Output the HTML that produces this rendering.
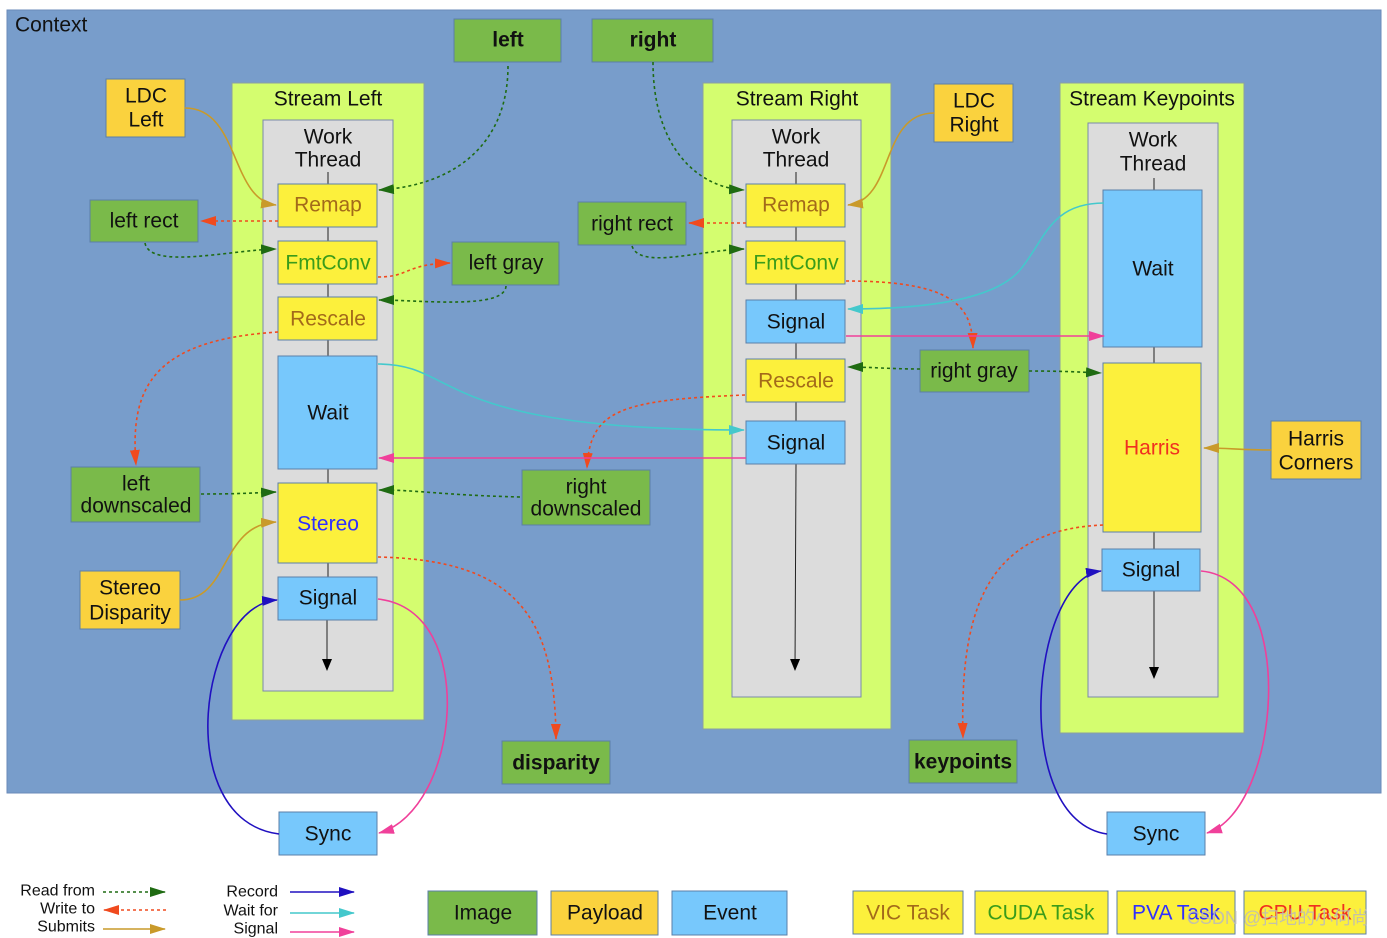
<!DOCTYPE html>
<html><head><meta charset="utf-8"><style>
html,body{margin:0;padding:0;background:#fff;}
svg{display:block;font-family:"Liberation Sans",Arial,sans-serif;}
</style></head><body>
<svg width="1387" height="938" viewBox="0 0 1387 938" xmlns="http://www.w3.org/2000/svg">
<defs>
<marker id="mg" markerWidth="16" markerHeight="10" refX="15" refY="5" orient="auto" markerUnits="userSpaceOnUse"><path d="M0,0 L16,5 L0,10 z" fill="#1f6b12"/></marker>
<marker id="mr" markerWidth="16" markerHeight="10" refX="15" refY="5" orient="auto" markerUnits="userSpaceOnUse"><path d="M0,0 L16,5 L0,10 z" fill="#f04a1e"/></marker>
<marker id="my" markerWidth="16" markerHeight="10" refX="15" refY="5" orient="auto" markerUnits="userSpaceOnUse"><path d="M0,0 L16,5 L0,10 z" fill="#c99a2a"/></marker>
<marker id="mc" markerWidth="16" markerHeight="10" refX="15" refY="5" orient="auto" markerUnits="userSpaceOnUse"><path d="M0,0 L16,5 L0,10 z" fill="#44c8cc"/></marker>
<marker id="mp" markerWidth="16" markerHeight="10" refX="15" refY="5" orient="auto" markerUnits="userSpaceOnUse"><path d="M0,0 L16,5 L0,10 z" fill="#f0409a"/></marker>
<marker id="mb" markerWidth="16" markerHeight="10" refX="15" refY="5" orient="auto" markerUnits="userSpaceOnUse"><path d="M0,0 L16,5 L0,10 z" fill="#2010c0"/></marker>
<marker id="mk" markerWidth="12" markerHeight="10" refX="11" refY="5" orient="auto" markerUnits="userSpaceOnUse"><path d="M0,0 L12,5 L0,10 z" fill="#000"/></marker>
</defs>
<style>
.ctx{fill:#789dcb;stroke:#6a8ab8}
.st{fill:#d4fd6f;stroke:#8aa0a0}
.wt{fill:#dcdcdc;stroke:#7a8aa8}
.img{fill:#7aba4a;stroke:#5b7fa8}
.pay{fill:#fad23e;stroke:#5b7fa8}
.ev{fill:#77c8fc;stroke:#5b7fa8}
.tk{fill:#fcf03c;stroke:#5b7fa8}
text{font-size:21px;text-anchor:middle;dominant-baseline:central;fill:#111}
.b{font-weight:bold}
.rd{fill:none;stroke:#1f6b12;stroke-width:1.6;stroke-dasharray:3,3}
.wr{fill:none;stroke:#f04a1e;stroke-width:1.6;stroke-dasharray:3,3}
.sb{fill:none;stroke:#c99a2a;stroke-width:1.6}
.cy{fill:none;stroke:#44c8cc;stroke-width:1.6}
.pk{fill:none;stroke:#f0409a;stroke-width:1.6}
.nv{fill:none;stroke:#2010c0;stroke-width:1.6}
.ln{stroke:#222;stroke-width:1}
</style>
<rect class="ctx" x="7" y="10" width="1374" height="783"/>
<text x="15" y="25" style="text-anchor:start">Context</text>

<rect class="st" x="232" y="83" width="192" height="637"/>
<text x="328" y="99">Stream Left</text>
<rect class="wt" x="263" y="120" width="130" height="571"/>
<text x="328" y="137">Work</text><text x="328" y="160">Thread</text>
<rect class="st" x="703" y="83" width="188" height="646"/>
<text x="797" y="99">Stream Right</text>
<rect class="wt" x="732" y="120" width="129" height="577"/>
<text x="796" y="137">Work</text><text x="796" y="160">Thread</text>
<rect class="st" x="1060" y="83" width="184" height="650"/>
<text x="1152" y="99">Stream Keypoints</text>
<rect class="wt" x="1088" y="123" width="130" height="574"/>
<text x="1153" y="140">Work</text><text x="1153" y="164">Thread</text>

<line class="ln" x1="328" y1="172" x2="328" y2="184"/>
<line class="ln" x1="328" y1="227" x2="328" y2="577"/>
<line class="ln" x1="327" y1="620" x2="327" y2="670" marker-end="url(#mk)"/>
<line class="ln" x1="796" y1="172" x2="796" y2="464"/>
<line class="ln" x1="796" y1="464" x2="795" y2="670" marker-end="url(#mk)"/>
<line class="ln" x1="1154" y1="178" x2="1154" y2="549"/>
<line class="ln" x1="1154" y1="591" x2="1154" y2="678" marker-end="url(#mk)"/>

<rect class="tk" x="278" y="184" width="99" height="43"/><text x="328" y="205" style="fill:#a36a1a">Remap</text>
<rect class="tk" x="278" y="241" width="99" height="43"/><text x="328" y="263" style="fill:#3a9c1a">FmtConv</text>
<rect class="tk" x="278" y="297" width="99" height="43"/><text x="328" y="319" style="fill:#a36a1a">Rescale</text>
<rect class="ev" x="278" y="356" width="99" height="113"/><text x="328" y="413">Wait</text>
<rect class="tk" x="278" y="483" width="99" height="80"/><text x="328" y="524" style="fill:#3030ff">Stereo</text>
<rect class="ev" x="278" y="577" width="99" height="43"/><text x="328" y="598">Signal</text>
<rect class="tk" x="746" y="184" width="99" height="43"/><text x="796" y="205" style="fill:#a36a1a">Remap</text>
<rect class="tk" x="746" y="241" width="99" height="43"/><text x="796" y="263" style="fill:#3a9c1a">FmtConv</text>
<rect class="ev" x="746" y="300" width="99" height="43"/><text x="796" y="322">Signal</text>
<rect class="tk" x="746" y="359" width="99" height="43"/><text x="796" y="381" style="fill:#a36a1a">Rescale</text>
<rect class="ev" x="746" y="421" width="99" height="43"/><text x="796" y="443">Signal</text>
<rect class="ev" x="1103" y="190" width="99" height="157"/><text x="1153" y="269">Wait</text>
<rect class="tk" x="1103" y="363" width="98" height="169"/><text x="1152" y="448" style="fill:#f03020">Harris</text>
<rect class="ev" x="1102" y="549" width="98" height="42"/><text x="1151" y="570">Signal</text>

<rect class="img" x="454" y="19" width="107" height="43"/><text class="b" x="508" y="40">left</text>
<rect class="img" x="592" y="19" width="121" height="43"/><text class="b" x="653" y="40">right</text>
<rect class="pay" x="106" y="79" width="79" height="58"/><text x="146" y="96">LDC</text><text x="146" y="120">Left</text>
<rect class="pay" x="934" y="84" width="79" height="58"/><text x="974" y="101">LDC</text><text x="974" y="125">Right</text>
<rect class="img" x="90" y="200" width="108" height="42"/><text x="144" y="221">left rect</text>
<rect class="img" x="452" y="242" width="107" height="43"/><text x="506" y="263">left gray</text>
<rect class="img" x="578" y="202" width="108" height="43"/><text x="632" y="224">right rect</text>
<rect class="img" x="920" y="350" width="109" height="42"/><text x="974" y="371">right gray</text>
<rect class="img" x="71" y="467" width="129" height="55"/><text x="136" y="484">left</text><text x="136" y="506">downscaled</text>
<rect class="img" x="522" y="470" width="128" height="55"/><text x="586" y="487">right</text><text x="586" y="509">downscaled</text>
<rect class="pay" x="80" y="571" width="100" height="58"/><text x="130" y="588">Stereo</text><text x="130" y="613">Disparity</text>
<rect class="pay" x="1271" y="421" width="90" height="58"/><text x="1316" y="439">Harris</text><text x="1316" y="463">Corners</text>
<rect class="img" x="502" y="741" width="108" height="43"/><text class="b" x="556" y="763">disparity</text>
<rect class="img" x="909" y="740" width="108" height="43"/><text class="b" x="963" y="762">keypoints</text>
<rect class="ev" x="279" y="812" width="98" height="43"/><text x="328" y="834">Sync</text>
<rect class="ev" x="1107" y="812" width="98" height="43"/><text x="1156" y="834">Sync</text>

<path class="rd" d="M508,66 C508,140 460,185 379,190" marker-end="url(#mg)"/>
<path class="rd" d="M653,62 C653,150 700,188 744,190" marker-end="url(#mg)"/>
<path class="sb" d="M185,108 C240,108 230,200 276,205" marker-end="url(#my)"/>
<path class="sb" d="M934,113 C880,113 895,200 848,205" marker-end="url(#my)"/>
<path class="wr" d="M278,221 L201,221" marker-end="url(#mr)"/>
<path class="wr" d="M746,223 L689,223" marker-end="url(#mr)"/>
<path class="rd" d="M145,243 C150,270 230,250 276,249" marker-end="url(#mg)"/>
<path class="rd" d="M632,246 C640,270 700,250 744,249" marker-end="url(#mg)"/>
<path class="wr" d="M378,277 C410,277 405,264 450,263" marker-end="url(#mr)"/>
<path class="rd" d="M506,286 C505,310 420,300 379,300" marker-end="url(#mg)"/>
<path class="wr" d="M278,332 C150,340 130,390 136,465" marker-end="url(#mr)"/>
<path class="wr" d="M846,281 C960,281 972,310 973,348" marker-end="url(#mr)"/>
<path class="rd" d="M920,369 C890,369 870,367 848,367" marker-end="url(#mg)"/>
<path class="rd" d="M1029,371 C1060,371 1080,372 1101,373" marker-end="url(#mg)"/>
<path class="wr" d="M745,395 C620,400 590,410 587,468" marker-end="url(#mr)"/>
<path class="rd" d="M201,494 C240,494 250,493 276,492" marker-end="url(#mg)"/>
<path class="rd" d="M520,497 C440,495 420,490 379,490" marker-end="url(#mg)"/>
<path class="sb" d="M180,600 C230,600 220,525 276,522" marker-end="url(#my)"/>
<path class="wr" d="M378,557 C520,560 555,620 556,739" marker-end="url(#mr)"/>
<path class="wr" d="M1103,525 C980,530 960,620 963,738" marker-end="url(#mr)"/>
<path class="sb" d="M1271,450 C1240,450 1230,448 1204,448" marker-end="url(#my)"/>
<path class="cy" d="M378,364 C460,364 430,430 744,430" marker-end="url(#mc)"/>
<path class="cy" d="M1104,203 C1050,203 1045,240 1020,270 C990,305 900,309 848,309" marker-end="url(#mc)"/>
<path class="pk" d="M846,336 L1104,336" marker-end="url(#mp)"/>
<path class="pk" d="M746,458 L379,458" marker-end="url(#mp)"/>
<path class="pk" d="M378,599 C480,610 460,810 379,833" marker-end="url(#mp)"/>
<path class="nv" d="M279,834 C170,820 200,605 277,600" marker-end="url(#mb)"/>
<path class="pk" d="M1201,571 C1300,580 1280,810 1207,833" marker-end="url(#mp)"/>
<path class="nv" d="M1107,834 C1010,820 1030,580 1101,571" marker-end="url(#mb)"/>

<text x="95" y="891" style="font-size:16px;text-anchor:end">Read from</text>
<text x="95" y="909" style="font-size:16px;text-anchor:end">Write to</text>
<text x="95" y="927" style="font-size:16px;text-anchor:end">Submits</text>
<text x="278" y="892" style="font-size:16px;text-anchor:end">Record</text>
<text x="278" y="911" style="font-size:16px;text-anchor:end">Wait for</text>
<text x="278" y="929" style="font-size:16px;text-anchor:end">Signal</text>
<path class="rd" d="M103,892 L165,892" marker-end="url(#mg)"/>
<path class="wr" d="M166,910 L104,910" marker-end="url(#mr)"/>
<path class="sb" d="M103,929 L165,929" marker-end="url(#my)"/>
<path class="nv" d="M290,892 L354,892" marker-end="url(#mb)"/>
<path class="cy" d="M290,913 L354,913" marker-end="url(#mc)"/>
<path class="pk" d="M290,932 L354,932" marker-end="url(#mp)"/>
<rect class="img" x="428" y="891" width="109" height="44"/><text x="483" y="913">Image</text>
<rect class="pay" x="551" y="891" width="107" height="44"/><text x="605" y="913">Payload</text>
<rect class="ev" x="672" y="891" width="115" height="44"/><text x="730" y="913">Event</text>
<rect class="tk" x="853" y="891" width="110" height="43"/><text x="908" y="913" style="fill:#a36a1a">VIC Task</text>
<rect class="tk" x="975" y="891" width="133" height="43"/><text x="1041" y="913" style="fill:#3a9c1a">CUDA Task</text>
<rect class="tk" x="1117" y="891" width="118" height="43"/><text x="1176" y="913" style="fill:#3030ff">PVA Task</text>
<rect class="tk" x="1244" y="891" width="122" height="43"/><text x="1305" y="913" style="fill:#f03020">CPU Task</text>
<text x="1278" y="918" style="font-size:18px;fill:#bbb;opacity:0.85">CSDN @扫地的小何尚</text>
</svg>
</body></html>
